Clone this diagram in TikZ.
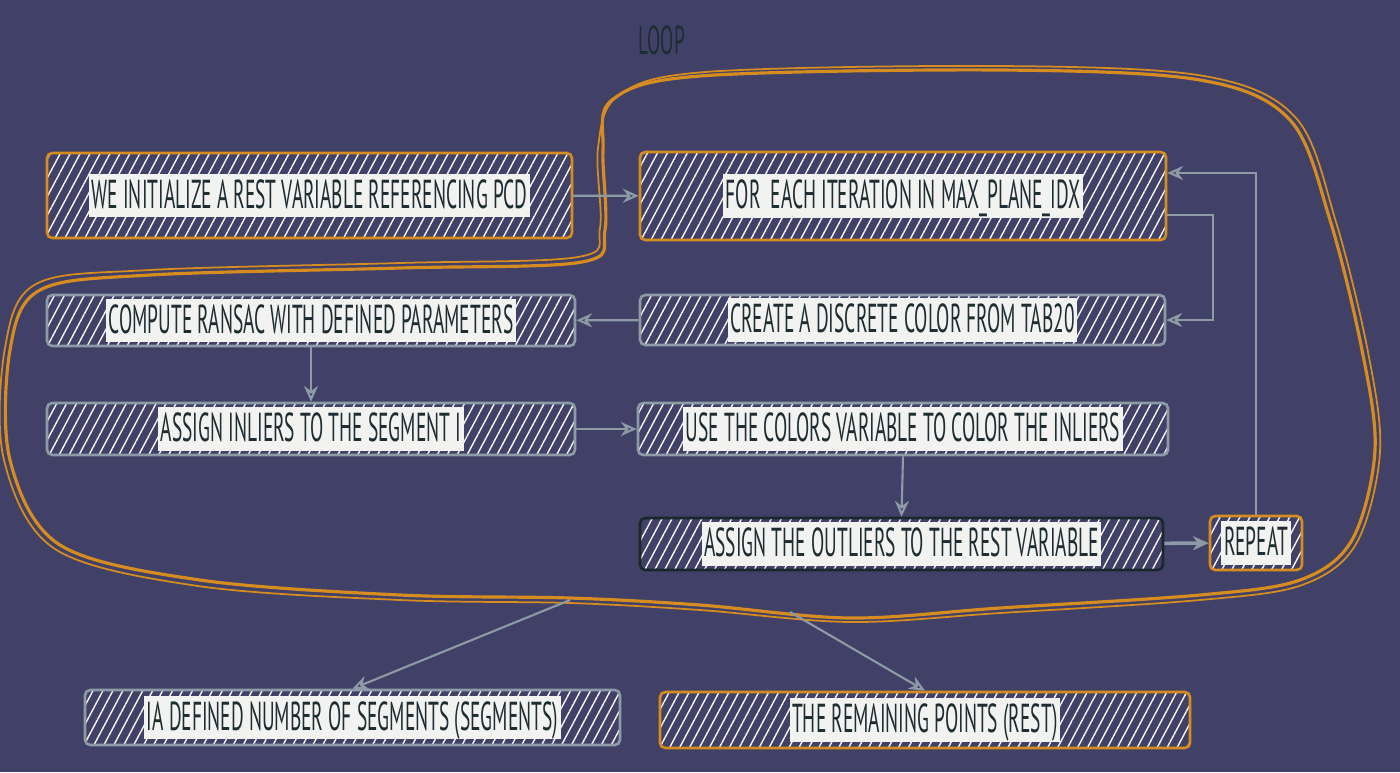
\documentclass[tikz,border=0pt]{standalone}
\usepackage{fontspec}
\newfontfamily\sketchfont[FakeStretch=0.48]{PT Sans}
\usepackage{tikz}
\usetikzlibrary{arrows.meta, positioning, fit, calc, patterns.meta}
\definecolor{bgcol}{RGB}{65,65,104}
\definecolor{loopcol}{RGB}{214,140,30}
\definecolor{greycol}{RGB}{140,155,165}
\definecolor{darkcol}{RGB}{25,40,45}
\definecolor{txtbg}{RGB}{242,242,240}
\definecolor{txtcol}{RGB}{30,45,50}

\begin{document}
\begin{tikzpicture}[
    x=0.02cm, y=-0.02cm,
    box/.style={rectangle, rounded corners=3pt, inner sep=0pt, line width=1.5pt, draw=greycol,
        pattern={Lines[angle=62, distance=5pt, line width=0.8pt]}, pattern color=white!92!gray},
    orangebox/.style={box, draw=loopcol},
    darkbox/.style={box, draw=darkcol},
    label/.style={fill=txtbg, text=txtcol, inner xsep=1.5pt, inner ysep=2.5pt, text height=17pt, text depth=2.5pt,
        font=\sketchfont\fontsize{23}{26}\selectfont},
    arrow/.style={draw=greycol, line width=1.2pt, -{Stealth[open, length=9pt, width=8pt]}}]
% background
\fill[bgcol] (0,0) rectangle (1400,772);
\useasboundingbox (0,0) rectangle (1400,772);

\node[text=txtcol, font=\sketchfont\fontsize{23}{26}\selectfont] (looptitle) at (662,40) {LOOP};

% loop outline
\draw[loopcol, line width=1.8pt] plot[smooth cycle, tension=0.55] coordinates {
    (612,100) (700,76) (1000,70) (1200,80) (1290,120) (1330,220) (1362,350) (1375,450)
    (1352,540) (1300,580) (1200,595) (1000,608) (850,618) (700,605) (570,598) (400,595)
    (200,580) (60,545) (10,460) (10,350) (40,290) (150,275) (400,268) (582,262) (605,230) (603,150)};
\draw[loopcol, line width=1pt] plot[smooth cycle, tension=0.55] coordinates {
    (618,96) (705,72) (1000,66) (1204,76) (1296,118) (1336,222) (1368,352) (1380,452)
    (1356,544) (1302,585) (1200,600) (1000,613) (850,622) (700,610) (570,603) (400,600)
    (198,586) (55,549) (4,460) (5,348) (36,284) (150,270) (400,263) (578,257) (600,228) (598,148)};
\coordinate (loopS) at (570,600);
\coordinate (loopR) at (790,612);

% boxes
\node[orangebox, fit={(47,153) (572,238)}] (init) {};
\node[label] at (init) {WE INITIALIZE A REST VARIABLE REFERENCING PCD};
\node[orangebox, fit={(640,152) (1166,240)}] (for) {};
\node[label] at (for) {FOR\ \ EACH ITERATION IN MAX\_PLANE\_IDX};
\node[box, fit={(47,295) (575,346)}] (ransac) {};
\node[label] at (ransac) {COMPUTE RANSAC WITH DEFINED PARAMETERS};
\node[box, fit={(640,295) (1165,345)}] (create) {};
\node[label] at (create) {CREATE A DISCRETE COLOR FROM TAB20};
\node[box, fit={(47,403) (575,455)}] (inliers) {};
\node[label] at (inliers) {ASSIGN INLIERS TO THE SEGMENT I};
\node[box, fit={(638,403) (1168,455)}] (colors) {};
\node[label] at (colors) {USE THE COLORS VARIABLE TO COLOR THE INLIERS};
\node[darkbox, fit={(640,518) (1163,570)}] (outliers) {};
\node[label] at (outliers) {ASSIGN THE OUTLIERS TO THE REST VARIABLE};
\node[orangebox, fit={(1210,516) (1302,570)}] (repeat) {};
\node[label] at (repeat) {REPEAT};
\node[box, fit={(85,690) (620,745)}] (segs) {};
\node[label] at (segs) {IA DEFINED NUMBER OF SEGMENTS (SEGMENTS)};
\node[orangebox, fit={(660,692) (1190,748)}] (rest) {};
\node[label] at (rest) {THE REMAINING POINTS (REST)};

% connectors
\draw[arrow] (init) -- (for);
\draw[arrow] ($(for.east)+(0,19)$) -- ++(46,0) |- (create.east);
\draw[arrow] (create) -- (ransac);
\draw[arrow] (ransac.south) -- (inliers.north);
\draw[arrow] (inliers) -- (colors);
\draw[arrow] (colors.south) -- (outliers.north);
\draw[arrow, line width=2pt] (outliers) -- (repeat);
\draw[arrow] (repeat.north) |- ($(for.east)+(0,-23)$);
\draw[arrow] (loopS) -- (segs.north);
\draw[arrow] (loopR) -- (rest.north);
\end{tikzpicture}
\end{document}
